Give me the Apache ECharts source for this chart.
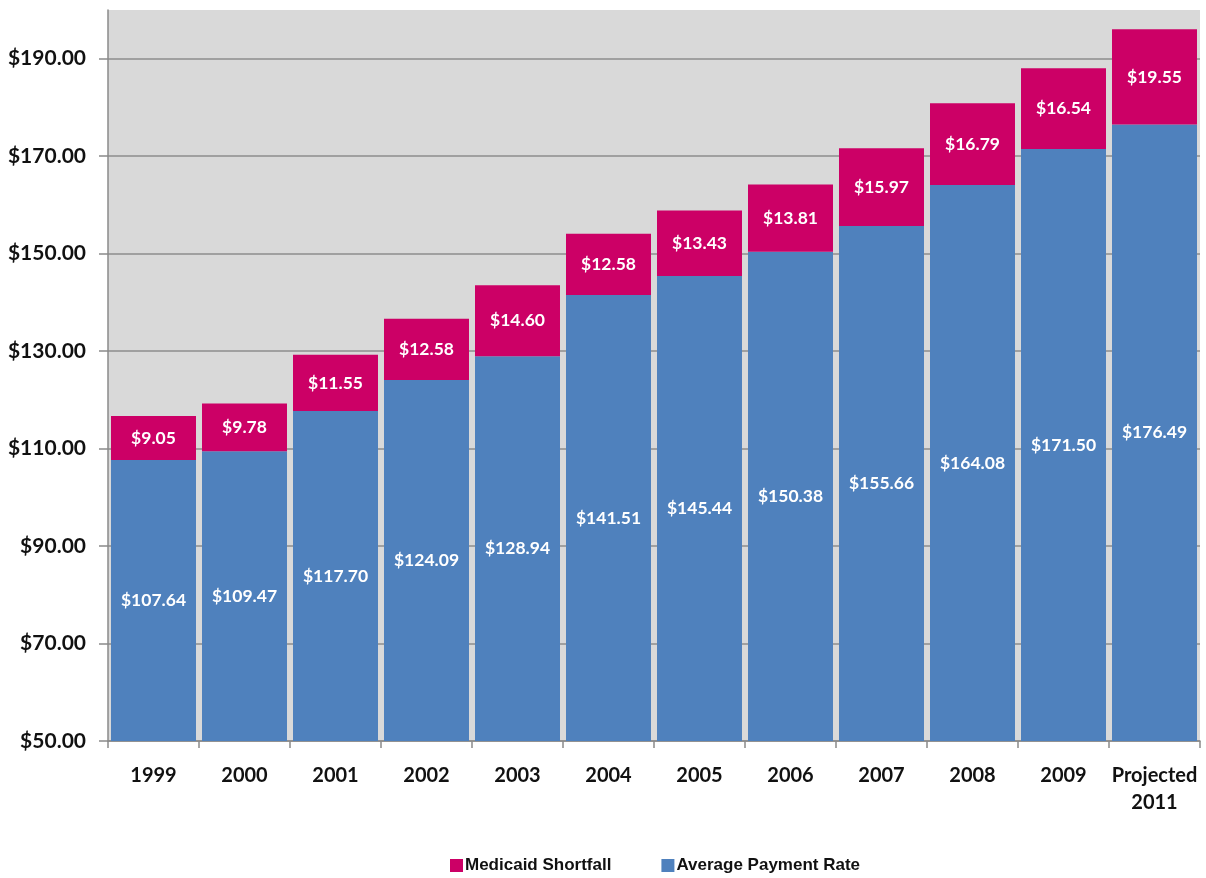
<!DOCTYPE html>
<html>
<head>
<meta charset="utf-8">
<style>
  html, body { margin: 0; padding: 0; background: #ffffff; }
  #chart { width: 1206px; height: 878px; }
</style>
<script src="https://cdn.jsdelivr.net/npm/echarts@6/dist/echarts.min.js"></script>
</head>
<body>
<div id="chart"></div>
<script>
// Categories along the x axis
const years = ['1999', '2000', '2001', '2002', '2003', '2004', '2005', '2006', '2007', '2008', '2009', 'Projected\n2011'];
// Average Medicaid payment rate (bottom segment)
const paymentRate = [107.64, 109.47, 117.70, 124.09, 128.94, 141.51, 145.44, 150.38, 155.66, 164.08, 171.50, 176.49];
// Shortfall stacked on top of the payment rate
const shortfall = [9.05, 9.78, 11.55, 12.58, 14.60, 12.58, 13.43, 13.81, 15.97, 16.79, 16.54, 19.55];

const FONT = 'Lato, "Open Sans", sans-serif';
const money = v => '$' + v.toFixed(2);

const chart = echarts.init(document.getElementById('chart'), null, { renderer: 'canvas' });

chart.setOption({
  animation: false,
  backgroundColor: '#ffffff',
  grid: {
    left: 108, right: 6, top: 10, bottom: 137,
    show: true, backgroundColor: '#d9d9d9', borderWidth: 0
  },
  legend: {
    data: ['Medicaid Shortfall', 'Average Payment Rate'],
    left: 445, top: 852,
    icon: 'rect', itemWidth: 13, itemHeight: 13, itemGap: 50,
    textStyle: {
      fontFamily: '"Liberation Sans Narrow", "Liberation Sans", Arial, sans-serif',
      fontWeight: 'bold', fontSize: 17, color: '#111', padding: [0, 0, 0, -3]
    }
  },
  xAxis: {
    type: 'category',
    data: years,
    axisLine: { lineStyle: { color: '#8a8a8a', width: 1.5 } },
    axisTick: { show: true, length: 7, lineStyle: { color: '#8a8a8a', width: 1.5 } },
    axisLabel: {
      margin: 21, interval: 0,
      fontFamily: FONT, fontWeight: 'bold', fontSize: 20, color: '#111', lineHeight: 27
    }
  },
  yAxis: {
    type: 'value',
    min: 50, max: 200, interval: 20,
    axisLine: { show: true, lineStyle: { color: '#8a8a8a', width: 1.5 } },
    axisTick: { show: true, length: 9, lineStyle: { color: '#8a8a8a', width: 1.5 } },
    splitLine: { show: true, showMaxLine: false, lineStyle: { color: '#8c8c8c', width: 1.5 } },
    axisLabel: {
      showMaxLabel: false, margin: 22,
      fontFamily: FONT, fontWeight: 'bold', fontSize: 21, color: '#111',
      formatter: v => money(v)
    }
  },
  series: [
    {
      name: 'Average Payment Rate',
      type: 'bar', stack: 'total',
      data: paymentRate,
      barCategoryGap: '6.6%',
      itemStyle: { color: '#4f81bd' },
      label: {
        show: true, position: 'inside',
        fontFamily: FONT, fontWeight: 'bold', fontSize: 17.5, color: '#ffffff',
        formatter: p => money(p.value)
      }
    },
    {
      name: 'Medicaid Shortfall',
      type: 'bar', stack: 'total',
      data: shortfall,
      barCategoryGap: '6.6%',
      itemStyle: { color: '#cc0066' },
      label: {
        show: true, position: 'inside',
        fontFamily: FONT, fontWeight: 'bold', fontSize: 17.5, color: '#ffffff',
        formatter: p => money(p.value)
      }
    }
  ]
});
</script>
</body>
</html>
